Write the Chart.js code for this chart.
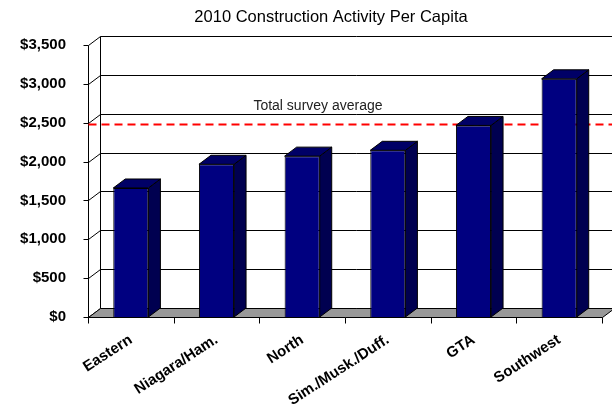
<!DOCTYPE html>
<html>
<head>
<meta charset="utf-8">
<script src="https://cdn.jsdelivr.net/npm/chart.js@4/dist/chart.umd.min.js"></script>
<style>
  html, body { margin: 0; padding: 0; background: #fff; }
  #wrap { width: 612px; height: 414px; }
</style>
</head>
<body>
<div id="wrap"><canvas id="chart" width="612" height="414"></canvas></div>
<script>
const categories = ['Eastern', 'Niagara/Ham.', 'North', 'Sim./Musk./Duff.', 'GTA', 'Southwest'];
const perCapita = [1660, 1965, 2070, 2145, 2465, 3065];
const surveyAverage = 2480;
const averageLabel = 'Total survey average';
const chartTitle = '2010 Construction Activity Per Capita';
const yMin = 0, yMax = 3500, yStep = 500;

const DX = 12, DY = -9; // fake depth of the 3d box

function poly(ctx, pts, fill) {
    ctx.beginPath();
    ctx.moveTo(pts[0][0], pts[0][1]);
    for (let i = 1; i < pts.length; i++) ctx.lineTo(pts[i][0], pts[i][1]);
    ctx.closePath();
    if (fill) { ctx.fillStyle = fill; ctx.fill(); }
    ctx.stroke();
}

function line(ctx, x1, y1, x2, y2) {
    ctx.beginPath();
    ctx.moveTo(x1, y1);
    ctx.lineTo(x2, y2);
    ctx.stroke();
}

const box3d = {
    id: 'box3d',
    beforeDatasetsDraw(chart) {
        const ctx = chart.ctx, a = chart.chartArea, y = chart.scales.y;
        const y0 = Math.round(y.getPixelForValue(yMin)) + 0.5;
        const yTop = Math.round(y.getPixelForValue(yMax)) + 0.5;
        const L = Math.round(a.left) + 0.5, R = Math.round(a.right) + 0.5;
        ctx.save();
        ctx.strokeStyle = '#000';
        ctx.lineWidth = 1;
        // back wall grid
        for (let v = yMin; v <= yMax; v += yStep) {
            const py = Math.round(y.getPixelForValue(v)) + 0.5;
            line(ctx, L + DX, py + DY, 612, py + DY);
            line(ctx, L, py, L + DX, py + DY);
            line(ctx, L - 5, py, L, py);
        }
        // side wall edge
        line(ctx, L + DX, yTop + DY, L + DX, y0 + DY);
        // floor
        poly(ctx, [[L, y0], [R, y0], [R + DX, y0 + DY], [L + DX, y0 + DY]], '#999999');
        // front axis
        line(ctx, L, yTop, L, y0);
        // category ticks
        const n = categories.length;
        for (let i = 0; i <= n; i++) {
            const px = Math.round(a.left + i * (a.right - a.left) / n) + 0.5;
            line(ctx, px, y0, px, y0 + 6);
        }
        // average line
        const ay = Math.round(y.getPixelForValue(surveyAverage)) + 0.5;
        ctx.strokeStyle = '#ff0000';
        ctx.lineWidth = 2;
        ctx.setLineDash([8, 5]);
        line(ctx, L, ay, 612, ay);
        ctx.setLineDash([]);
        ctx.fillStyle = '#222';
        ctx.font = '14px "Liberation Sans", Arial, sans-serif';
        ctx.textAlign = 'center';
        ctx.textBaseline = 'middle';
        ctx.fillText(averageLabel, 318, ay - 18);
        ctx.restore();
    },
    afterDatasetsDraw(chart) {
        const ctx = chart.ctx;
        ctx.save();
        ctx.strokeStyle = '#000';
        ctx.lineWidth = 1;
        chart.getDatasetMeta(0).data.forEach(function (bar) {
            const l = bar.x - bar.width / 2, r = bar.x + bar.width / 2;
            poly(ctx, [[r, bar.y], [r + DX, bar.y + DY], [r + DX, bar.base + DY], [r, bar.base]], '#000050');
            poly(ctx, [[l, bar.y], [l + DX, bar.y + DY], [r + DX, bar.y + DY], [r, bar.y]], '#000066');
        });
        // title, placed by hand because it sits off-centre
        ctx.fillStyle = '#000';
        ctx.font = '16.5px "Liberation Sans", Arial, sans-serif';
        ctx.textAlign = 'center';
        ctx.textBaseline = 'middle';
        ctx.fillText(chartTitle, 331, 17);
        ctx.restore();
    }
};

Chart.defaults.color = '#000';
Chart.defaults.font.family = '"Liberation Sans", Arial, sans-serif';

new Chart(document.getElementById('chart').getContext('2d'), {
    type: 'bar',
    data: {
        labels: categories,
        datasets: [{
            data: perCapita,
            backgroundColor: '#000080',
            borderColor: '#000',
            borderWidth: 1,
            barPercentage: 0.41,
            categoryPercentage: 1
        }]
    },
    options: {
        responsive: false,
        animation: false,
        layout: { padding: { left: 0, right: 10, top: 45, bottom: 0 } },
        plugins: {
            legend: { display: false },
            tooltip: { enabled: false },
            title: { display: false }
        },
        scales: {
            x: {
                grid: { display: false },
                border: { display: false },
                ticks: {
                    minRotation: 33,
                    maxRotation: 33,
                    padding: 6,
                    font: { size: 15, weight: 'bold' }
                },
                afterFit(scale) { scale.height = 97; }
            },
            y: {
                min: yMin,
                max: yMax,
                grid: { display: false },
                border: { display: false },
                ticks: {
                    stepSize: yStep,
                    padding: 14,
                    font: { size: 15, weight: 'bold' },
                    callback: v => '$' + v.toLocaleString('en-US')
                },
                afterFit(scale) { scale.width = 88; }
            }
        }
    },
    plugins: [box3d]
});
</script>
</body>
</html>
